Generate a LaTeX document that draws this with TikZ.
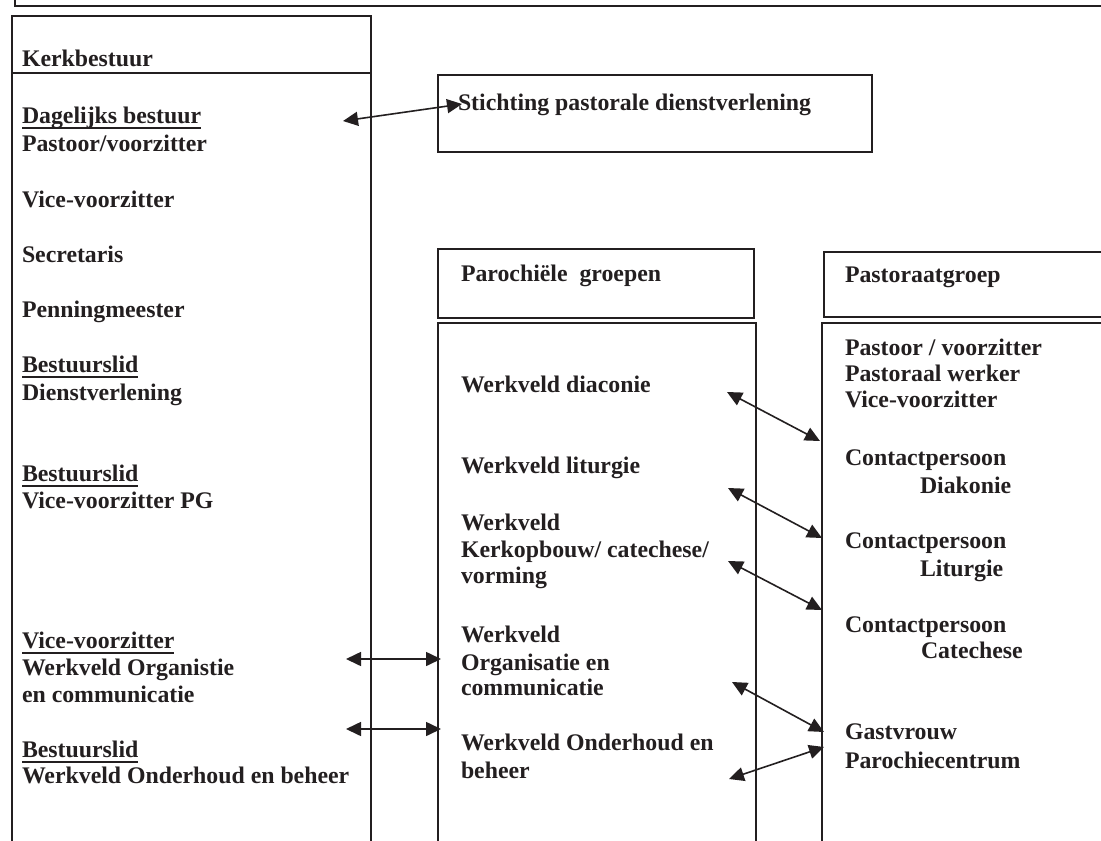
\documentclass[tikz,border=0pt]{standalone}
\usepackage{fontspec}
\setmainfont{Liberation Serif}
\usetikzlibrary{arrows.meta}
\definecolor{ink}{HTML}{231F20}
\newcommand\myul[1]{\setbox0\hbox{#1}\rlap{\rule[-6pt]{\wd0}{2pt}}\box0}
\tikzset{
  frame/.style={draw=ink, line width=1.8pt},
  txt/.style={anchor=base west, inner sep=0pt, outer sep=0pt, text=ink,
    font=\fontsize{23.8}{28}\selectfont\bfseries},
  link/.style={draw=ink, line width=1.6pt,
    {Triangle[length=15pt,width=14pt]}-{Triangle[length=15pt,width=14pt]}}
}
\begin{document}
\begin{tikzpicture}[x=1pt,y=-1pt]
\useasboundingbox (0,0) rectangle (1101,841);
\clip (0,0) rectangle (1101,841);
\fill[white] (0,0) rectangle (1101,841);
% boxes
\draw[frame] (15,-40) rectangle (1140,6);
\draw[frame] (12,16) rectangle (371,880);
\draw[frame] (12,73) -- (371,73);
\draw[frame] (438,75) rectangle (872,152);
\draw[frame] (438,249) rectangle (754,318);
\draw[frame] (438,323) rectangle (756,880);
\draw[frame] (824,252) rectangle (1140,317);
\draw[frame] (822,323) rectangle (1140,880);
% left column
\node[txt] (kb) at (22,66) {Kerkbestuur};
\node[txt] (db) at (22,123) {\myul{Dagelijks bestuur}};
\node[txt] (pv) at (22,151) {Pastoor/voorzitter};
\node[txt] (vv) at (22,207) {Vice-voorzitter};
\node[txt] (se) at (22,262) {Secretaris};
\node[txt] (pm) at (22,317) {Penningmeester};
\node[txt] (b1) at (22,372) {\myul{Bestuurslid}};
\node[txt] (dv) at (22,400) {Dienstverlening};
\node[txt] (b2) at (22,481) {\myul{Bestuurslid}};
\node[txt] (vpg) at (22,508) {Vice-voorzitter PG};
\node[txt] (vv2) at (22,648) {\myul{Vice-voorzitter}};
\node[txt] (wo) at (22,675) {Werkveld Organistie};
\node[txt] (ec) at (22,702) {en communicatie};
\node[txt] (b3) at (22,757) {\myul{Bestuurslid}};
\node[txt] (wob) at (22,783) {Werkveld Onderhoud en beheer};
% stichting
\node[txt] (st) at (458,110) {Stichting pastorale dienstverlening};
% parochiele groepen
\node[txt] (pg) at (461,281) {Parochiële\ \ groepen};
\node[txt] (wd) at (461,392) {Werkveld diaconie};
\node[txt] (wl) at (461,473) {Werkveld liturgie};
\node[txt] (wk1) at (461,530) {Werkveld};
\node[txt] (wk2) at (461,557) {Kerkopbouw/ catechese/};
\node[txt] (wk3) at (461,583) {vorming};
\node[txt] (wg1) at (461,642) {Werkveld};
\node[txt] (wg2) at (461,670) {Organisatie en};
\node[txt] (wg3) at (461,695) {communicatie};
\node[txt] (wh1) at (461,750) {Werkveld Onderhoud en};
\node[txt] (wh2) at (461,778) {beheer};
% pastoraatgroep
\node[txt] (pa) at (845,282) {Pastoraatgroep};
\node[txt] (p1) at (845,355) {Pastoor / voorzitter};
\node[txt] (p2) at (845,381) {Pastoraal werker};
\node[txt] (p3) at (845,407) {Vice-voorzitter};
\node[txt] (c1) at (845,465) {Contactpersoon};
\node[txt] (c1b) at (920,493) {Diakonie};
\node[txt] (c2) at (845,548) {Contactpersoon};
\node[txt] (c2b) at (920,576) {Liturgie};
\node[txt] (c3) at (845,632) {Contactpersoon};
\node[txt] (c3b) at (921,658) {Catechese};
\node[txt] (g1) at (845,739) {Gastvrouw};
\node[txt] (g2) at (845,768) {Parochiecentrum};
% arrow end points
\coordinate (a0s) at (343,121); \coordinate (a0e) at (462,104);
\coordinate (a1s) at (346,659); \coordinate (a1e) at (441,659);
\coordinate (a2s) at (346,729); \coordinate (a2e) at (441,729);
\coordinate (a3s) at (727,392); \coordinate (a3e) at (820,441);
\coordinate (a4s) at (728,488); \coordinate (a4e) at (822,538);
\coordinate (a5s) at (728,561); \coordinate (a5e) at (822,610);
\coordinate (a6s) at (732,682); \coordinate (a6e) at (824,732);
\coordinate (a7s) at (729,779); \coordinate (a7e) at (824,747);
\foreach \i in {0,...,7} {\draw[link] (a\i s) -- (a\i e);}
\end{tikzpicture}
\end{document}
